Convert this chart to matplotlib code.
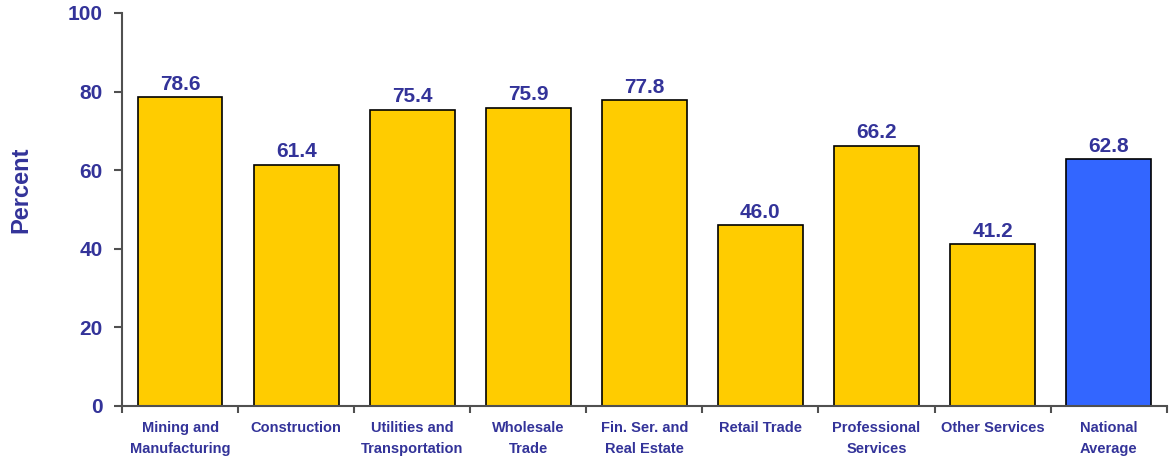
import matplotlib.pyplot as plt
import numpy as np

categories = ['Mining and\nManufacturing', 'Construction', 'Utilities and\nTransportation',
              'Wholesale\nTrade', 'Fin. Ser. and\nReal Estate', 'Retail Trade',
              'Professional\nServices', 'Other Services', 'National\nAverage']
values = [78.6, 61.4, 75.4, 75.9, 77.8, 46.0, 66.2, 41.2, 62.8]
bar_colors = ['#FFCC00'] * 8 + ['#3366FF']
yticks = [0, 20, 40, 60, 80, 100]

text_color = '#333399'
axis_color = '#505050'
plt.rcParams['font.family'] = ['Liberation Sans', 'DejaVu Sans']
plt.rcParams['font.weight'] = 'bold'

fig = plt.figure(figsize=(11.69, 4.57), dpi=100)
ax = fig.add_axes([0.1044, 0.1116, 0.8936, 0.86])

x = np.arange(len(categories))
bars = ax.bar(x, values, width=0.73, color=bar_colors, edgecolor='black', linewidth=1.2, zorder=2)
for xi, v in zip(x, values):
    ax.text(xi, v + 0.9, f'{v:.1f}', ha='center', va='bottom', fontsize=15,
            fontweight='bold', color=text_color)

ax.set_xlim(-0.5, len(categories) - 0.5)
ax.set_ylim(0, 100)
ax.set_yticks(yticks)
ax.set_yticklabels([str(t) for t in yticks], fontsize=15, fontweight='bold', color=text_color)

# boundary ticks on the x axis, labels sit on minor ticks at bar centres
ax.set_xticks(np.arange(len(categories) + 1) - 0.5)
ax.set_xticklabels([])
ax.set_xticks(x, minor=True)
ax.set_xticklabels(categories, minor=True, fontsize=10.5, fontweight='bold',
                   color=text_color, linespacing=1.6)
ax.tick_params(axis='x', which='minor', length=0, pad=11)
ax.tick_params(axis='x', which='major', length=5, width=1.5, color=axis_color, direction='out')
ax.tick_params(axis='y', length=6, width=1.5, color=axis_color, direction='out', pad=8)

ax.set_ylabel('Percent', fontsize=17, fontweight='bold', color=text_color)
ax.yaxis.set_label_coords(-0.086, 0.55)

for side in ['top', 'right']:
    ax.spines[side].set_visible(False)
for side in ['left', 'bottom']:
    ax.spines[side].set_color(axis_color)
    ax.spines[side].set_linewidth(1.5)

fig.savefig('out.png', dpi=100)
